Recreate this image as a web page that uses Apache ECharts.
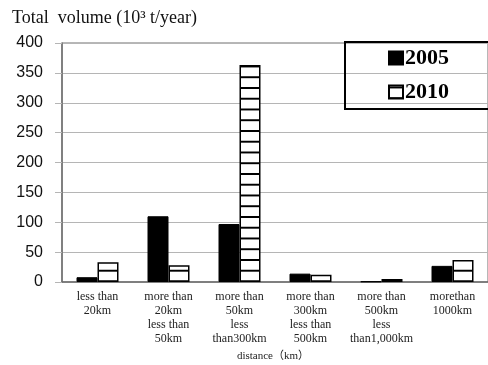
<!DOCTYPE html>
<html>
<head>
<meta charset="utf-8">
<script src="https://cdn.jsdelivr.net/npm/echarts@6/dist/echarts.min.js"></script>
<style>
  html, body { margin: 0; padding: 0; background: #fff; }
  #chart { width: 488px; height: 365px; }
</style>
</head>
<body>
<div id="chart"></div>
<script>
// Distance bands (km)
const categories = [
  'less than\n20km',
  'more than\n20km\nless than\n50km',
  'more than\n50km\nless\nthan300km',
  'more than\n300km\nless than\n500km',
  'more than\n500km\nless\nthan1,000km',
  'morethan\n1000km'
];
// Total volume, 10^3 t/year
const values2005 = [8, 110, 97, 14, 1, 27];
const values2010 = [33, 28, 363, 12, 5, 37];
const seriesNames = ['2005', '2010'];

const serif = '"Liberation Serif", "Times New Roman", "Noto Sans CJK JP", serif';
const sans = '"Liberation Sans", Arial, sans-serif';

// Horizontal-stripe fill for the 2010 bars
function stripeTile() {
  const c = document.createElement('canvas');
  c.width = 4; c.height = 11;
  const ctx = c.getContext('2d');
  ctx.fillStyle = '#ffffff';
  ctx.fillRect(0, 0, 4, 11);
  ctx.fillStyle = '#000000';
  ctx.fillRect(0, 1, 4, 2);
  return c;
}

const chart = echarts.init(document.getElementById('chart'), null, { renderer: 'canvas' });

chart.setOption({
  animation: false,
  backgroundColor: '#ffffff',
  grid: {
    left: 62, top: 43, right: -4, bottom: 83,
    show: true, borderColor: '#6e6e6e', borderWidth: 1, backgroundColor: 'transparent'
  },
  legend: {
    orient: 'vertical',
    left: 388,
    top: 47,
    icon: 'rect',
    itemWidth: 14,
    itemHeight: 13,
    itemGap: 12,
    padding: 0,
    data: seriesNames,
    textStyle: { fontFamily: serif, fontWeight: 'bold', fontSize: 22, color: '#000', padding: [0, 0, 0, -3] }
  },
  xAxis: {
    type: 'category',
    data: categories,
    axisLine: { lineStyle: { color: '#6e6e6e', width: 1.5 } },
    axisTick: { show: false },
    axisLabel: {
      interval: 0, margin: 8,
      fontFamily: serif, fontSize: 12, lineHeight: 14, color: '#222'
    }
  },
  yAxis: {
    type: 'value',
    min: 0, max: 400, interval: 50,
    axisLine: { show: true, lineStyle: { color: '#6e6e6e', width: 1.5 } },
    axisTick: { show: true, length: 7, lineStyle: { color: '#b5b5b5' } },
    splitLine: { lineStyle: { color: '#b5b5b5', width: 1 } },
    axisLabel: { margin: 19, fontFamily: sans, fontSize: 16, color: '#111' }
  },
  graphic: [
    {
      type: 'text', left: 12, top: 9,
      style: { text: 'Total  volume (10³ t/year)', font: '18px ' + serif, fill: '#111' }
    },
    {
      type: 'text', x: 273, y: 356,
      style: { text: 'distance（km）', font: '11px ' + serif, fill: '#222', align: 'center', verticalAlign: 'middle' }
    },
    {
      type: 'rect', shape: { x: 345, y: 42, width: 150, height: 67 },
      style: { fill: 'none', stroke: '#000', lineWidth: 2 }, z: 10
    }
  ],
  series: [
    {
      name: seriesNames[0],
      type: 'bar',
      data: values2005,
      barWidth: 21,
      barGap: '0%',
      itemStyle: { color: '#000', borderColor: '#000', borderWidth: 1 }
    },
    {
      name: seriesNames[1],
      type: 'bar',
      data: values2010,
      barWidth: 21,
      itemStyle: {
        color: { image: stripeTile(), repeat: 'repeat', x: 0, y: 0, scaleY: 10.75 / 11 },
        borderColor: '#000', borderWidth: 1.5
      }
    }
  ]
});
</script>
</body>
</html>
